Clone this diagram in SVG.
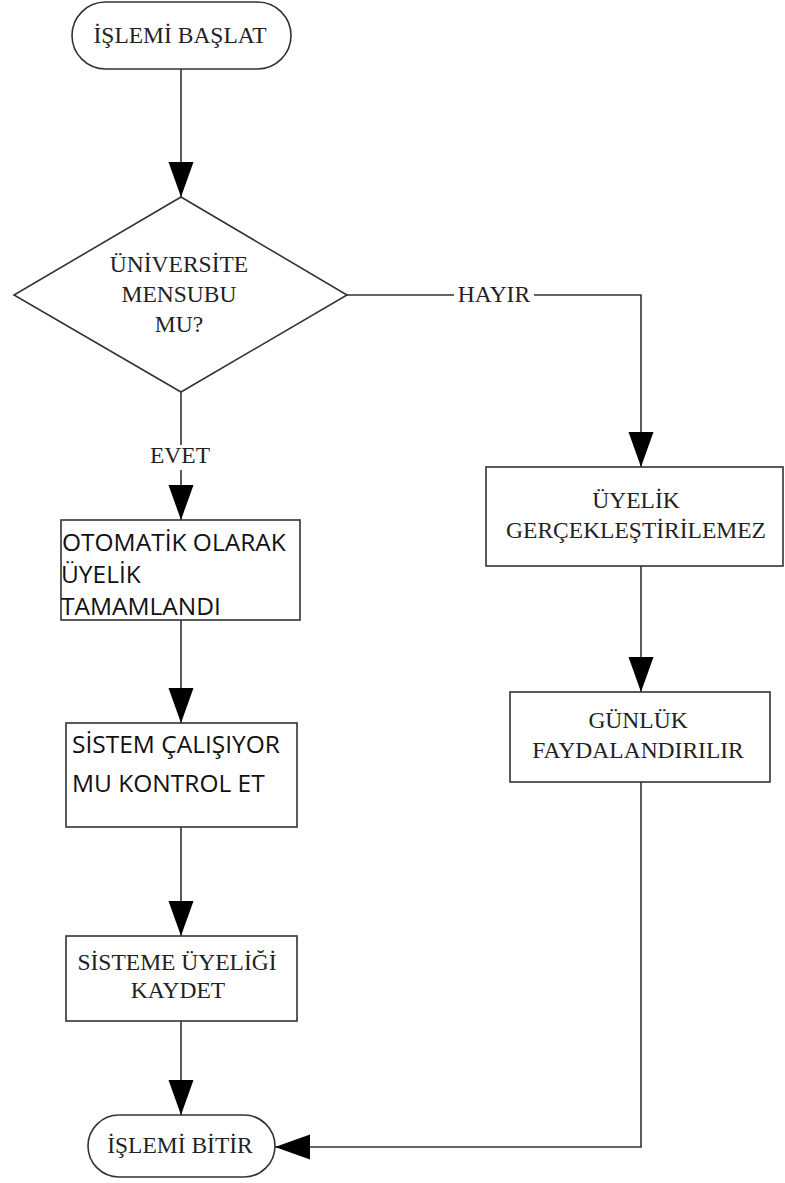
<svg xmlns="http://www.w3.org/2000/svg" width="785" height="1183" viewBox="0 0 785 1183">
<defs>
<marker id="ah" markerUnits="userSpaceOnUse" markerWidth="36" markerHeight="26" refX="35" refY="12.5" orient="auto">
<path d="M0,0 L35,12.5 L0,25 z" fill="#000"/>
</marker>
<style>
.shape{fill:#fff;stroke:#333;stroke-width:1.6}
.conn{fill:none;stroke:#333;stroke-width:1.6}
.serif{font-family:"Liberation Serif","Times New Roman",serif;font-size:23.5px;fill:#222;text-anchor:middle}
.sans{font-family:"Open Sans","Noto Sans",sans-serif;font-size:24.5px;fill:#111}
</style>
</defs>
<rect width="785" height="1183" fill="#fff"/>
<g id="connectors">
<path class="conn" d="M181,69 L181,197" marker-end="url(#ah)"/>
<path class="conn" d="M181,392 L181,445"/>
<path class="conn" d="M181,470 L181,520" marker-end="url(#ah)"/>
<path class="conn" d="M181,620 L181,723" marker-end="url(#ah)"/>
<path class="conn" d="M181,827 L181,936" marker-end="url(#ah)"/>
<path class="conn" d="M181,1021 L181,1115" marker-end="url(#ah)"/>
<path class="conn" d="M347,295 L454,295"/>
<path class="conn" d="M534,295 L641,295 L641,467" marker-end="url(#ah)"/>
<path class="conn" d="M641,566 L641,692" marker-end="url(#ah)"/>
<path class="conn" d="M641,782 L641,1147 L275,1147" marker-end="url(#ah)"/>
<text class="serif" x="180" y="463">EVET</text>
<text class="serif" x="494" y="302">HAYIR</text>
</g>
<g id="start">
<rect class="shape" x="72" y="2" width="219" height="67" rx="33.5"/>
<text class="serif" x="180" y="43">İŞLEMİ BAŞLAT</text>
</g>
<g id="decision">
<polygon class="shape" points="181,197 347,295 181,392 14,295"/>
<text class="serif" x="179" y="272">ÜNİVERSİTE</text>
<text class="serif" x="179" y="302">MENSUBU</text>
<text class="serif" x="179" y="332">MU?</text>
</g>
<g id="auto-membership">
<rect class="shape" x="61" y="520" width="239" height="100"/>
<text class="sans" x="62" y="551">OTOMATİK OLARAK</text>
<text class="sans" x="61" y="583">ÜYELİK</text>
<text class="sans" x="61" y="615">TAMAMLANDI</text>
</g>
<g id="check-system">
<rect class="shape" x="66" y="723" width="231" height="104"/>
<text class="sans" x="72" y="753">SİSTEM ÇALIŞIYOR</text>
<text class="sans" x="72" y="792">MU KONTROL ET</text>
</g>
<g id="save-membership">
<rect class="shape" x="66" y="936" width="231" height="85"/>
<text class="serif" x="177" y="970">SİSTEME ÜYELİĞİ</text>
<text class="serif" x="178" y="998">KAYDET</text>
</g>
<g id="end">
<rect class="shape" x="88" y="1115" width="187" height="62" rx="31"/>
<text class="serif" x="180" y="1153">İŞLEMİ BİTİR</text>
</g>
<g id="no-membership">
<rect class="shape" x="486" y="467" width="297" height="99"/>
<text class="serif" x="636" y="508">ÜYELİK</text>
<text class="serif" x="636" y="538">GERÇEKLEŞTİRİLEMEZ</text>
</g>
<g id="daily">
<rect class="shape" x="510" y="692" width="260" height="90"/>
<text class="serif" x="638" y="728">GÜNLÜK</text>
<text class="serif" x="638" y="758">FAYDALANDIRILIR</text>
</g>
</svg>
